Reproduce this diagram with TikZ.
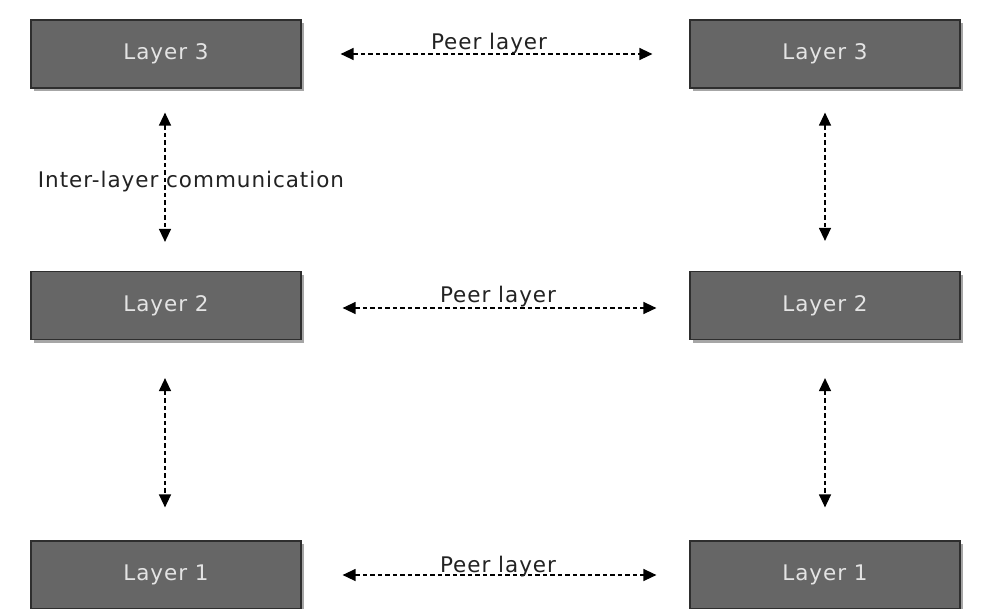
\documentclass[tikz,border=0pt]{standalone}
\usepackage{fontspec}
\setmainfont{DejaVu Sans}[LetterSpace=4.5]
\usetikzlibrary{arrows.meta,shadows}
\definecolor{boxfill}{HTML}{666666}
\definecolor{boxline}{HTML}{2E2E2E}
\definecolor{boxtext}{HTML}{E4E4E4}
\definecolor{txt}{HTML}{222222}
\tikzset{
  layerbox/.style={draw=boxline, line width=1.2pt, fill=boxfill, minimum width=270pt, minimum height=68pt,
    text=boxtext, font=\fontsize{21.5}{24}\selectfont, inner sep=0pt,
    drop shadow={shadow xshift=2.5pt, shadow yshift=-3pt, opacity=0.35, fill=black}},
  link/.style={dash pattern=on 4.5pt off 3pt, line width=1.3pt, draw=black,
    {Triangle[length=13pt,width=12pt]}-{Triangle[length=13pt,width=12pt]}},
  lbl/.style={text=txt, font=\fontsize{21.5}{24}\selectfont, inner sep=0pt}
}
\begin{document}
\begin{tikzpicture}[x=1pt,y=-1pt]
\useasboundingbox[fill=white] (0,0) rectangle (984,608);
\node[layerbox] (a3) at (166,54) {Layer 3};
\node[layerbox] (b3) at (825,54) {Layer 3};
\node[layerbox] (a2) at (166,305.5) {Layer 2};
\node[layerbox] (b2) at (825,305.5) {Layer 2};
\node[layerbox] (a1) at (166,575) {Layer 1};
\node[layerbox] (b1) at (825,575) {Layer 1};
% peer links
\draw[link, shorten <=39pt, shorten >=37pt] (a3.east) -- (b3.west);
\draw[link, shorten <=41pt, shorten >=33pt] ([yshift=-2.5pt]a2.east) -- ([yshift=-2.5pt]b2.west);
\draw[link, shorten <=41pt, shorten >=33pt] (a1.east) -- (b1.west);
\node[lbl, anchor=base] (p3) at (489,49) {Peer layer};
\node[lbl, anchor=base] (p2) at (498,302) {Peer layer};
\node[lbl, anchor=base] (p1) at (498,572) {Peer layer};
% vertical links
\draw[link, shorten <=24pt, shorten >=29pt] ([xshift=-1pt]a3.south) -- ([xshift=-1pt]a2.north);
\draw[link, shorten <=38pt, shorten >=33pt] ([xshift=-1pt]a2.south) -- ([xshift=-1pt]a1.north);
\draw[link, shorten <=24pt, shorten >=30pt] (b3.south) -- (b2.north);
\draw[link, shorten <=38pt, shorten >=33pt] (b2.south) -- (b1.north);
\node[lbl, anchor=base] (ic) at (191,187) {Inter-layer communication};
\end{tikzpicture}
\end{document}
